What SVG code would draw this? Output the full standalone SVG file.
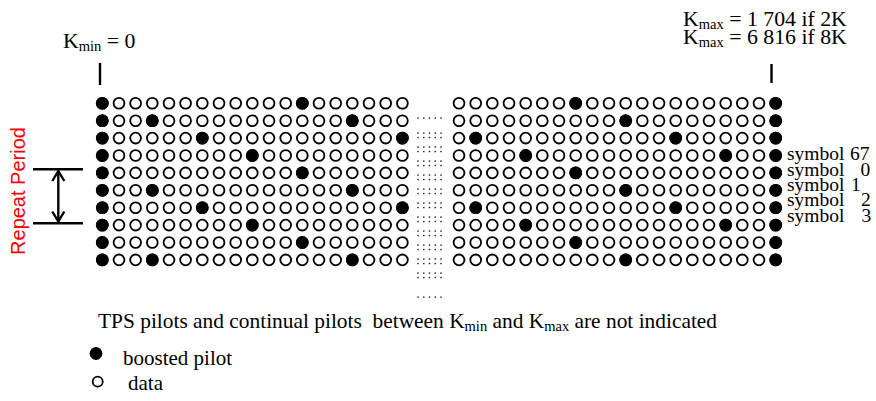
<svg xmlns="http://www.w3.org/2000/svg" xmlns:xlink="http://www.w3.org/1999/xlink" width="876" height="401" viewBox="0 0 876 401">
<style>
.o{fill:#fff;stroke:#000;stroke-width:1.8}
.f{fill:#000}
.t{font-family:"Liberation Serif","Times New Roman",serif;font-size:21px;fill:#000}
.k{font-size:21.8px}
.n{font-size:21.4px}
.s{font-size:19.5px}
.sub{font-size:14.5px}
.ln{stroke:#000;stroke-width:2.4;fill:none}
.d{fill:#222}
</style>
<defs>
<circle id="oc" r="5.4" class="o"/>
<circle id="fc" r="6.4" class="f"/>
<g id="lrow">
<use href="#oc" x="102.3"/><use href="#oc" x="119"/><use href="#oc" x="135.6"/><use href="#oc" x="152.3"/><use href="#oc" x="169"/><use href="#oc" x="185.6"/><use href="#oc" x="202.3"/><use href="#oc" x="219"/><use href="#oc" x="235.7"/><use href="#oc" x="252.3"/><use href="#oc" x="269"/><use href="#oc" x="285.7"/><use href="#oc" x="302.3"/><use href="#oc" x="319"/><use href="#oc" x="335.7"/><use href="#oc" x="352.3"/><use href="#oc" x="369"/><use href="#oc" x="385.7"/><use href="#oc" x="402.4"/>
</g>
<g id="rrow">
<use href="#oc" x="459"/><use href="#oc" x="475.7"/><use href="#oc" x="492.3"/><use href="#oc" x="509"/><use href="#oc" x="525.7"/><use href="#oc" x="542.3"/><use href="#oc" x="559"/><use href="#oc" x="575.7"/><use href="#oc" x="592.3"/><use href="#oc" x="609"/><use href="#oc" x="625.7"/><use href="#oc" x="642.3"/><use href="#oc" x="659"/><use href="#oc" x="675.7"/><use href="#oc" x="692.3"/><use href="#oc" x="709"/><use href="#oc" x="725.7"/><use href="#oc" x="742.3"/><use href="#oc" x="759"/><use href="#oc" x="775.7"/>
</g>
<g id="dl">
<circle class="d" cx="418" r="0.85"/><circle class="d" cx="423.8" r="0.85"/><circle class="d" cx="429.5" r="0.85"/><circle class="d" cx="435.3" r="0.85"/><circle class="d" cx="441" r="0.85"/>
</g>
</defs>
<rect width="876" height="401" fill="#fff"/>

<g id="labels-top">
<text class="t k" x="63" y="48">K<tspan class="sub" dy="3">min</tspan><tspan dy="-3"> = 0</tspan></text>
<text class="t k" x="683" y="26">K<tspan class="sub" dy="3">max</tspan><tspan dy="-3"> = 1 704 if 2K</tspan></text>
<text class="t k" x="683" y="44">K<tspan class="sub" dy="3">max</tspan><tspan dy="-3"> = 6 816 if 8K</tspan></text>
<line class="ln" x1="100" y1="63" x2="100" y2="85" stroke-width="2"/>
<line class="ln" x1="771.5" y1="64" x2="771.5" y2="83" stroke-width="2"/>
</g>

<g id="grid-left">
<use href="#lrow" y="103.3"/><use href="#lrow" y="120.7"/><use href="#lrow" y="138.1"/><use href="#lrow" y="155.5"/><use href="#lrow" y="172.9"/><use href="#lrow" y="190.3"/><use href="#lrow" y="207.7"/><use href="#lrow" y="225.1"/><use href="#lrow" y="242.5"/><use href="#lrow" y="259.9"/>
<use href="#fc" x="102.3" y="103.3"/><use href="#fc" x="302.3" y="103.3"/>
<use href="#fc" x="102.3" y="120.7"/><use href="#fc" x="152.3" y="120.7"/><use href="#fc" x="352.3" y="120.7"/>
<use href="#fc" x="102.3" y="138.1"/><use href="#fc" x="202.3" y="138.1"/><use href="#fc" x="402.4" y="138.1"/>
<use href="#fc" x="102.3" y="155.5"/><use href="#fc" x="252.3" y="155.5"/>
<use href="#fc" x="102.3" y="172.9"/><use href="#fc" x="302.3" y="172.9"/>
<use href="#fc" x="102.3" y="190.3"/><use href="#fc" x="152.3" y="190.3"/><use href="#fc" x="352.3" y="190.3"/>
<use href="#fc" x="102.3" y="207.7"/><use href="#fc" x="202.3" y="207.7"/><use href="#fc" x="402.4" y="207.7"/>
<use href="#fc" x="102.3" y="225.1"/><use href="#fc" x="252.3" y="225.1"/>
<use href="#fc" x="102.3" y="242.5"/><use href="#fc" x="302.3" y="242.5"/>
<use href="#fc" x="102.3" y="259.9"/><use href="#fc" x="152.3" y="259.9"/><use href="#fc" x="352.3" y="259.9"/>
</g>

<g id="gap-dots">
<use href="#dl" y="118"/>
<use href="#dl" y="133"/><use href="#dl" y="137.5"/>
<use href="#dl" y="147"/><use href="#dl" y="151.5"/>
<use href="#dl" y="161"/><use href="#dl" y="165.5"/>
<use href="#dl" y="175"/><use href="#dl" y="179.5"/>
<use href="#dl" y="189"/><use href="#dl" y="193.5"/>
<use href="#dl" y="203"/><use href="#dl" y="207.5"/>
<use href="#dl" y="217"/><use href="#dl" y="221.5"/>
<use href="#dl" y="231"/><use href="#dl" y="235.5"/>
<use href="#dl" y="245"/><use href="#dl" y="249.5"/>
<use href="#dl" y="259"/><use href="#dl" y="263.5"/>
<use href="#dl" y="273"/><use href="#dl" y="277.5"/>
<use href="#dl" y="297"/>
</g>

<g id="grid-right">
<use href="#rrow" y="103.3"/><use href="#rrow" y="120.7"/><use href="#rrow" y="138.1"/><use href="#rrow" y="155.5"/><use href="#rrow" y="172.9"/><use href="#rrow" y="190.3"/><use href="#rrow" y="207.7"/><use href="#rrow" y="225.1"/><use href="#rrow" y="242.5"/><use href="#rrow" y="259.9"/>
<use href="#fc" x="575.7" y="103.3"/><use href="#fc" x="775.7" y="103.3"/>
<use href="#fc" x="625.7" y="120.7"/><use href="#fc" x="775.7" y="120.7"/>
<use href="#fc" x="475.7" y="138.1"/><use href="#fc" x="675.7" y="138.1"/><use href="#fc" x="775.7" y="138.1"/>
<use href="#fc" x="525.7" y="155.5"/><use href="#fc" x="725.7" y="155.5"/><use href="#fc" x="775.7" y="155.5"/>
<use href="#fc" x="575.7" y="172.9"/><use href="#fc" x="775.7" y="172.9"/>
<use href="#fc" x="625.7" y="190.3"/><use href="#fc" x="775.7" y="190.3"/>
<use href="#fc" x="475.7" y="207.7"/><use href="#fc" x="675.7" y="207.7"/><use href="#fc" x="775.7" y="207.7"/>
<use href="#fc" x="525.7" y="225.1"/><use href="#fc" x="725.7" y="225.1"/><use href="#fc" x="775.7" y="225.1"/>
<use href="#fc" x="575.7" y="242.5"/><use href="#fc" x="775.7" y="242.5"/>
<use href="#fc" x="625.7" y="259.9"/><use href="#fc" x="775.7" y="259.9"/>
</g>

<g id="symbol-labels">
<text class="t s" x="787" y="160">symbol<tspan x="850">67</tspan></text>
<text class="t s" x="787" y="176">symbol<tspan x="860.5">0</tspan></text>
<text class="t s" x="787" y="191">symbol<tspan x="851">1</tspan></text>
<text class="t s" x="787" y="206">symbol<tspan x="861">2</tspan></text>
<text class="t s" x="787" y="222">symbol<tspan x="861.5">3</tspan></text>
</g>

<g id="repeat-period">
<line class="ln" x1="33" y1="169.3" x2="83" y2="169.3"/>
<line class="ln" x1="33" y1="223.3" x2="83" y2="223.3"/>
<line class="ln" x1="58.3" y1="171" x2="58.3" y2="221.5"/>
<polyline class="ln" points="52.3,181 58.3,171 64.3,181"/>
<polyline class="ln" points="52.3,211.5 58.3,221.5 64.3,211.5"/>
<text x="24.5" y="191" transform="rotate(-90 24.5 191)" text-anchor="middle" font-family="Liberation Sans, Arial, sans-serif" font-size="20" fill="#ff0000">Repeat Period</text>
</g>

<g id="note">
<text class="t n" x="98" y="328" xml:space="preserve">TPS pilots and continual pilots  between K<tspan class="sub" dy="3">min</tspan><tspan dy="-3"> and K</tspan><tspan class="sub" dy="3">max</tspan><tspan dy="-3"> are not indicated</tspan></text>
</g>

<g id="legend">
<circle cx="96" cy="353.5" r="6.4" class="f"/>
<text class="t" x="123" y="365">boosted pilot</text>
<circle cx="97.7" cy="381.7" r="5" class="o"/>
<text class="t" x="128" y="390">data</text>
</g>
</svg>
